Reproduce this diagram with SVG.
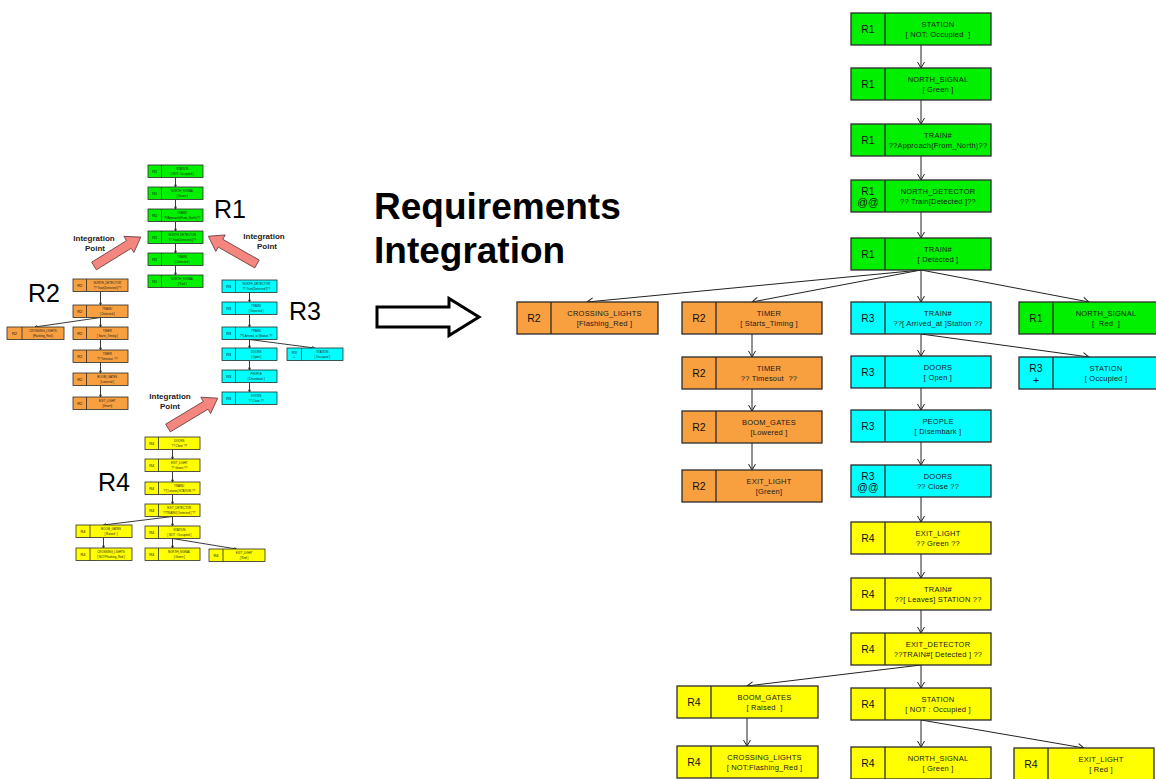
<svg xmlns="http://www.w3.org/2000/svg" width="1156" height="779" viewBox="0 0 1156 779">
  <style>
    .box{stroke:#2b2b2b;stroke-width:1.3}
    .mbox{stroke:#2b2b2b;stroke-width:0.8}
    .g{fill:#00F000}
    .o{fill:#F8A040}
    .c{fill:#00FFFF}
    .y{fill:#FFFF00}
    .dv{stroke:#2b2b2b;stroke-width:1.3}
    .mdv{stroke:#2b2b2b;stroke-width:0.8}
    .lb{font-family:"Liberation Sans",Arial,sans-serif;font-size:10.5px;text-anchor:middle;fill:#111}
    .tx{font-family:"Liberation Sans",Arial,sans-serif;font-size:7.5px;text-anchor:middle;fill:#1a1a1a;letter-spacing:0.2px;white-space:pre}
    .mlb{font-family:"Liberation Sans",Arial,sans-serif;font-size:4px;text-anchor:middle;fill:#111}
    .mtx{font-family:"Liberation Sans",Arial,sans-serif;font-size:2.9px;text-anchor:middle;fill:#1a1a1a;white-space:pre}
    .ln{stroke:#222;stroke-width:1;fill:none;marker-end:url(#ah)}
    .mln{stroke:#222;stroke-width:0.9;fill:none;marker-end:url(#mah)}
    .big{font-family:"Liberation Sans",Arial,sans-serif;font-size:25px;fill:#000}
    .ip{font-family:"Liberation Sans",Arial,sans-serif;font-size:8px;font-weight:bold;text-anchor:middle;fill:#222}
    .title{font-family:"Liberation Sans",Arial,sans-serif;font-size:37px;font-weight:bold;fill:#000}
    .pink{fill:#F4857F;stroke:#6a4040;stroke-width:0.8}
  </style>
  <defs>
    <marker id="ah" viewBox="0 0 7 8" refX="6.5" refY="4" markerWidth="7" markerHeight="8" markerUnits="userSpaceOnUse" orient="auto">
      <path d="M0.5,0.5 L6.5,4 L0.5,7.5" fill="none" stroke="#222" stroke-width="1"/>
    </marker>
    <marker id="mah" viewBox="0 0 7 8" refX="6.5" refY="4" markerWidth="3" markerHeight="3.4" markerUnits="userSpaceOnUse" orient="auto">
      <path d="M0.5,0.5 L6.5,4 L0.5,7.5" fill="none" stroke="#222" stroke-width="1.6"/>
    </marker>
  </defs>
  <rect width="1156" height="779" fill="#fff"/>

  <!-- ===== small requirement trees ===== -->
  <g id="mini-connectors">
    <path class="mln" d="M175.5,177.5 V187"/>
    <path class="mln" d="M175.5,199.5 V209"/>
    <path class="mln" d="M175.5,221.5 V231"/>
    <path class="mln" d="M175.5,243.5 V253"/>
    <path class="mln" d="M175.5,265.5 V275"/>

    <path class="mln" d="M100.5,291.5 V305"/>
    <path class="mln" d="M100.5,317.5 V327"/>
    <path class="mln" d="M100.5,317.5 L35,327"/>
    <path class="mln" d="M100.5,339.5 V350"/>
    <path class="mln" d="M100.5,362.5 V373"/>
    <path class="mln" d="M100.5,385.5 V397"/>

    <path class="mln" d="M249.5,292.5 V302"/>
    <path class="mln" d="M249.5,314.5 V327"/>
    <path class="mln" d="M249.5,339.5 V348"/>
    <path class="mln" d="M249.5,339.5 L314.5,348"/>
    <path class="mln" d="M249.5,360.5 V370"/>
    <path class="mln" d="M249.5,382.5 V392"/>

    <path class="mln" d="M172.5,449.5 V459"/>
    <path class="mln" d="M172.5,471.5 V482"/>
    <path class="mln" d="M172.5,494.5 V504"/>
    <path class="mln" d="M172.5,516.5 V526"/>
    <path class="mln" d="M172.5,516.5 L103.5,525"/>
    <path class="mln" d="M103.5,537.5 V548"/>
    <path class="mln" d="M172.5,538.5 V548"/>
    <path class="mln" d="M172.5,538.5 L236.5,549"/>
  </g>

  <!-- R1 tree -->
  <g id="m1-station" transform="translate(148,165)"><rect class="mbox g" width="55" height="12.5"/><line class="mdv" x1="13.5" y1="0" x2="13.5" y2="12.5"/><text class="mlb" x="6.75" y="7.8">R1</text><text class="mtx" x="34.25" y="5.3">STATION</text><text class="mtx" x="34.25" y="9.6">[ NOT: Occupied ]</text></g>
  <g id="m1-nsignal" transform="translate(148,187)"><rect class="mbox g" width="55" height="12.5"/><line class="mdv" x1="13.5" y1="0" x2="13.5" y2="12.5"/><text class="mlb" x="6.75" y="7.8">R1</text><text class="mtx" x="34.25" y="5.3">NORTH_SIGNAL</text><text class="mtx" x="34.25" y="9.6">[ Green ]</text></g>
  <g id="m1-train" transform="translate(148,209)"><rect class="mbox g" width="55" height="12.5"/><line class="mdv" x1="13.5" y1="0" x2="13.5" y2="12.5"/><text class="mlb" x="6.75" y="7.8">R1</text><text class="mtx" x="34.25" y="5.3">TRAIN#</text><text class="mtx" x="34.25" y="9.6">??Approach(From_North)??</text></g>
  <g id="m1-ndetector" transform="translate(148,231)"><rect class="mbox g" width="55" height="12.5"/><line class="mdv" x1="13.5" y1="0" x2="13.5" y2="12.5"/><text class="mlb" x="6.75" y="7.8">R1</text><text class="mtx" x="34.25" y="5.3">NORTH_DETECTOR</text><text class="mtx" x="34.25" y="9.6">?? Train[Detected ]??</text></g>
  <g id="m1-detected" transform="translate(148,253)"><rect class="mbox g" width="55" height="12.5"/><line class="mdv" x1="13.5" y1="0" x2="13.5" y2="12.5"/><text class="mlb" x="6.75" y="7.8">R1</text><text class="mtx" x="34.25" y="5.3">TRAIN#</text><text class="mtx" x="34.25" y="9.6">[ Detected ]</text></g>
  <g id="m1-nsignal-red" transform="translate(148,275)"><rect class="mbox g" width="55" height="12.5"/><line class="mdv" x1="13.5" y1="0" x2="13.5" y2="12.5"/><text class="mlb" x="6.75" y="7.8">R1</text><text class="mtx" x="34.25" y="5.3">NORTH_SIGNAL</text><text class="mtx" x="34.25" y="9.6">[ Red ]</text></g>

  <!-- R2 tree -->
  <g id="m2-ndetector" transform="translate(73,279)"><rect class="mbox o" width="55" height="12.5"/><line class="mdv" x1="13.5" y1="0" x2="13.5" y2="12.5"/><text class="mlb" x="6.75" y="7.8">R2</text><text class="mtx" x="34.25" y="5.3">NORTH_DETECTOR</text><text class="mtx" x="34.25" y="9.6">?? Train[Detected ]??</text></g>
  <g id="m2-detected" transform="translate(73,305)"><rect class="mbox o" width="55" height="12.5"/><line class="mdv" x1="13.5" y1="0" x2="13.5" y2="12.5"/><text class="mlb" x="6.75" y="7.8">R2</text><text class="mtx" x="34.25" y="5.3">TRAIN#</text><text class="mtx" x="34.25" y="9.6">[ Detected ]</text></g>
  <g id="m2-crossing" transform="translate(7,327)"><rect class="mbox o" width="57" height="12.5"/><line class="mdv" x1="15" y1="0" x2="15" y2="12.5"/><text class="mlb" x="7.5" y="7.8">R2</text><text class="mtx" x="36" y="5.3">CROSSING_LIGHTS</text><text class="mtx" x="36" y="9.6">[Flashing_Red ]</text></g>
  <g id="m2-timer" transform="translate(73,327)"><rect class="mbox o" width="55" height="12.5"/><line class="mdv" x1="13.5" y1="0" x2="13.5" y2="12.5"/><text class="mlb" x="6.75" y="7.8">R2</text><text class="mtx" x="34.25" y="5.3">TIMER</text><text class="mtx" x="34.25" y="9.6">[ Starts_Timing ]</text></g>
  <g id="m2-timeout" transform="translate(73,350)"><rect class="mbox o" width="55" height="12.5"/><line class="mdv" x1="13.5" y1="0" x2="13.5" y2="12.5"/><text class="mlb" x="6.75" y="7.8">R2</text><text class="mtx" x="34.25" y="5.3">TIMER</text><text class="mtx" x="34.25" y="9.6">?? Timesout  ??</text></g>
  <g id="m2-boom" transform="translate(73,373)"><rect class="mbox o" width="55" height="12.5"/><line class="mdv" x1="13.5" y1="0" x2="13.5" y2="12.5"/><text class="mlb" x="6.75" y="7.8">R2</text><text class="mtx" x="34.25" y="5.3">BOOM_GATES</text><text class="mtx" x="34.25" y="9.6">[Lowered ]</text></g>
  <g id="m2-exit" transform="translate(73,397)"><rect class="mbox o" width="55" height="12.5"/><line class="mdv" x1="13.5" y1="0" x2="13.5" y2="12.5"/><text class="mlb" x="6.75" y="7.8">R2</text><text class="mtx" x="34.25" y="5.3">EXIT_LIGHT</text><text class="mtx" x="34.25" y="9.6">[Green]</text></g>

  <!-- R3 tree -->
  <g id="m3-ndetector" transform="translate(222,280)"><rect class="mbox c" width="55" height="12.5"/><line class="mdv" x1="13.5" y1="0" x2="13.5" y2="12.5"/><text class="mlb" x="6.75" y="7.8">R3</text><text class="mtx" x="34.25" y="5.3">NORTH_DETECTOR</text><text class="mtx" x="34.25" y="9.6">?? Train[Detected ]??</text></g>
  <g id="m3-detected" transform="translate(222,302)"><rect class="mbox c" width="55" height="12.5"/><line class="mdv" x1="13.5" y1="0" x2="13.5" y2="12.5"/><text class="mlb" x="6.75" y="7.8">R3</text><text class="mtx" x="34.25" y="5.3">TRAIN#</text><text class="mtx" x="34.25" y="9.6">[ Detected ]</text></g>
  <g id="m3-arrived" transform="translate(222,327)"><rect class="mbox c" width="55" height="12.5"/><line class="mdv" x1="13.5" y1="0" x2="13.5" y2="12.5"/><text class="mlb" x="6.75" y="7.8">R3</text><text class="mtx" x="34.25" y="5.3">TRAIN#</text><text class="mtx" x="34.25" y="9.6">??[ Arrived_at ]Station ??</text></g>
  <g id="m3-open" transform="translate(222,348)"><rect class="mbox c" width="55" height="12.5"/><line class="mdv" x1="13.5" y1="0" x2="13.5" y2="12.5"/><text class="mlb" x="6.75" y="7.8">R3</text><text class="mtx" x="34.25" y="5.3">DOORS</text><text class="mtx" x="34.25" y="9.6">[ Open ]</text></g>
  <g id="m3-station" transform="translate(287,348)"><rect class="mbox c" width="56" height="12.5"/><line class="mdv" x1="14.5" y1="0" x2="14.5" y2="12.5"/><text class="mlb" x="7.25" y="5.5">R3</text><text class="mlb" x="7.25" y="10.3">+</text><text class="mtx" x="35.25" y="5.3">STATION</text><text class="mtx" x="35.25" y="9.6">[ Occupied ]</text></g>
  <g id="m3-people" transform="translate(222,370)"><rect class="mbox c" width="55" height="12.5"/><line class="mdv" x1="13.5" y1="0" x2="13.5" y2="12.5"/><text class="mlb" x="6.75" y="7.8">R3</text><text class="mtx" x="34.25" y="5.3">PEOPLE</text><text class="mtx" x="34.25" y="9.6">[ Disembark ]</text></g>
  <g id="m3-close" transform="translate(222,392)"><rect class="mbox c" width="55" height="12.5"/><line class="mdv" x1="13.5" y1="0" x2="13.5" y2="12.5"/><text class="mlb" x="6.75" y="7.8">R3</text><text class="mtx" x="34.25" y="5.3">DOORS</text><text class="mtx" x="34.25" y="9.6">?? Close ??</text></g>

  <!-- R4 tree -->
  <g id="m4-close" transform="translate(145,437)"><rect class="mbox y" width="55" height="12.5"/><line class="mdv" x1="13.5" y1="0" x2="13.5" y2="12.5"/><text class="mlb" x="6.75" y="7.8">R4</text><text class="mtx" x="34.25" y="5.3">DOORS</text><text class="mtx" x="34.25" y="9.6">?? Close ??</text></g>
  <g id="m4-exitgreen" transform="translate(145,459)"><rect class="mbox y" width="55" height="12.5"/><line class="mdv" x1="13.5" y1="0" x2="13.5" y2="12.5"/><text class="mlb" x="6.75" y="7.8">R4</text><text class="mtx" x="34.25" y="5.3">EXIT_LIGHT</text><text class="mtx" x="34.25" y="9.6">?? Green ??</text></g>
  <g id="m4-leaves" transform="translate(145,482)"><rect class="mbox y" width="55" height="12.5"/><line class="mdv" x1="13.5" y1="0" x2="13.5" y2="12.5"/><text class="mlb" x="6.75" y="7.8">R4</text><text class="mtx" x="34.25" y="5.3">TRAIN#</text><text class="mtx" x="34.25" y="9.6">??[ Leaves] STATION ??</text></g>
  <g id="m4-edetector" transform="translate(145,504)"><rect class="mbox y" width="55" height="12.5"/><line class="mdv" x1="13.5" y1="0" x2="13.5" y2="12.5"/><text class="mlb" x="6.75" y="7.8">R4</text><text class="mtx" x="34.25" y="5.3">EXIT_DETECTOR</text><text class="mtx" x="34.25" y="9.6">??TRAIN#[ Detected ] ??</text></g>
  <g id="m4-raised" transform="translate(76,525)"><rect class="mbox y" width="56" height="12.5"/><line class="mdv" x1="14" y1="0" x2="14" y2="12.5"/><text class="mlb" x="7" y="7.8">R4</text><text class="mtx" x="35" y="5.3">BOOM_GATES</text><text class="mtx" x="35" y="9.6">[ Raised  ]</text></g>
  <g id="m4-station" transform="translate(145,526)"><rect class="mbox y" width="55" height="12.5"/><line class="mdv" x1="13.5" y1="0" x2="13.5" y2="12.5"/><text class="mlb" x="6.75" y="7.8">R4</text><text class="mtx" x="34.25" y="5.3">STATION</text><text class="mtx" x="34.25" y="9.6">[ NOT : Occupied ]</text></g>
  <g id="m4-crossing" transform="translate(76,548)"><rect class="mbox y" width="56" height="12.5"/><line class="mdv" x1="14" y1="0" x2="14" y2="12.5"/><text class="mlb" x="7" y="7.8">R4</text><text class="mtx" x="35" y="5.3">CROSSING_LIGHTS</text><text class="mtx" x="35" y="9.6">[ NOT:Flashing_Red ]</text></g>
  <g id="m4-nsignal" transform="translate(145,548)"><rect class="mbox y" width="55" height="12.5"/><line class="mdv" x1="13.5" y1="0" x2="13.5" y2="12.5"/><text class="mlb" x="6.75" y="7.8">R4</text><text class="mtx" x="34.25" y="5.3">NORTH_SIGNAL</text><text class="mtx" x="34.25" y="9.6">[ Green ]</text></g>
  <g id="m4-exitred" transform="translate(209,549)"><rect class="mbox y" width="56" height="12.5"/><line class="mdv" x1="14" y1="0" x2="14" y2="12.5"/><text class="mlb" x="7" y="7.8">R4</text><text class="mtx" x="35" y="5.3">EXIT_LIGHT</text><text class="mtx" x="35" y="9.6">[ Red ]</text></g>

  <!-- tree captions -->
  <text class="big" x="214" y="218">R1</text>
  <text class="big" x="28" y="302">R2</text>
  <text class="big" x="289" y="320">R3</text>
  <text class="big" x="98" y="491">R4</text>

  <!-- integration point arrows -->
  <g id="ip-left">
    <polygon class="pink" transform="translate(94,266) rotate(-31.7)" points="0,-4.5 41,-4.5 41,-9.5 55,0 41,9.5 41,4.5 0,4.5"/>
    <text class="ip" x="94" y="241">Integration</text>
    <text class="ip" x="95" y="251">Point</text>
  </g>
  <g id="ip-right">
    <polygon class="pink" transform="translate(257,264) rotate(-150.3)" points="0,-4.5 42,-4.5 42,-9.5 56,0 42,9.5 42,4.5 0,4.5"/>
    <text class="ip" x="264" y="239">Integration</text>
    <text class="ip" x="267" y="249">Point</text>
  </g>
  <g id="ip-bottom">
    <polygon class="pink" transform="translate(168,428) rotate(-31)" points="0,-4.5 44,-4.5 44,-9.5 58,0 44,9.5 44,4.5 0,4.5"/>
    <text class="ip" x="170" y="399">Integration</text>
    <text class="ip" x="170" y="409">Point</text>
  </g>

  <!-- heading and hollow arrow -->
  <text class="title" x="374" y="219">Requirements</text>
  <text class="title" x="374" y="263">Integration</text>
  <polygon points="377,307 449,307 449,298.5 479,317 449,335.5 449,327 377,327" fill="#fff" stroke="#000" stroke-width="3"/>

  <!-- ===== integrated tree ===== -->
  <g id="connectors">
    <path class="ln" d="M921,45 V68"/>
    <path class="ln" d="M921,100 V124"/>
    <path class="ln" d="M921,156 V180"/>
    <path class="ln" d="M921,212 V238"/>
    <path class="ln" d="M921,270 L587,302"/>
    <path class="ln" d="M921,270 L752,302"/>
    <path class="ln" d="M921,270 V302"/>
    <path class="ln" d="M921,270 L1089,302"/>
    <path class="ln" d="M752,334 V357"/>
    <path class="ln" d="M752,389 V411"/>
    <path class="ln" d="M752,443 V470"/>
    <path class="ln" d="M921,334 V356"/>
    <path class="ln" d="M921,334 L1089,357"/>
    <path class="ln" d="M921,388 V410"/>
    <path class="ln" d="M921,442 V465"/>
    <path class="ln" d="M921,497 V522"/>
    <path class="ln" d="M921,554 V578"/>
    <path class="ln" d="M921,610 V633"/>
    <path class="ln" d="M921,665 L747,686"/>
    <path class="ln" d="M921,665 V688"/>
    <path class="ln" d="M747,718 V746"/>
    <path class="ln" d="M921,720 V747"/>
    <path class="ln" d="M921,720 L1084,748"/>
  </g>

  <g id="g1-station" transform="translate(851,13)"><rect class="box g" width="140" height="32"/><line class="dv" x1="34" y1="0" x2="34" y2="32"/><text class="lb" x="17" y="19.5">R1</text><text class="tx" x="87" y="13.5">STATION</text><text class="tx" x="87" y="23.5">[ NOT: Occupied  ]</text></g>
  <g id="g2-nsignal" transform="translate(851,68)"><rect class="box g" width="140" height="32"/><line class="dv" x1="34" y1="0" x2="34" y2="32"/><text class="lb" x="17" y="19.5">R1</text><text class="tx" x="87" y="13.5">NORTH_SIGNAL</text><text class="tx" x="87" y="23.5">[ Green ]</text></g>
  <g id="g3-train" transform="translate(851,124)"><rect class="box g" width="140" height="32"/><line class="dv" x1="34" y1="0" x2="34" y2="32"/><text class="lb" x="17" y="19.5">R1</text><text class="tx" x="87" y="13.5">TRAIN#</text><text class="tx" x="87" y="23.5">??Approach(From_North)??</text></g>
  <g id="g4-ndetector" transform="translate(851,180)"><rect class="box g" width="140" height="32"/><line class="dv" x1="34" y1="0" x2="34" y2="32"/><text class="lb" x="17" y="14.5">R1</text><text class="lb" x="17" y="25.5">@@</text><text class="tx" x="87" y="13.5">NORTH_DETECTOR</text><text class="tx" x="87" y="23.5">?? Train[Detected ]??</text></g>
  <g id="g5-detected" transform="translate(851,238)"><rect class="box g" width="140" height="32"/><line class="dv" x1="34" y1="0" x2="34" y2="32"/><text class="lb" x="17" y="19.5">R1</text><text class="tx" x="87" y="13.5">TRAIN#</text><text class="tx" x="87" y="23.5">[ Detected ]</text></g>

  <g id="o1-crossing" transform="translate(517,302)"><rect class="box o" width="141" height="32"/><line class="dv" x1="34" y1="0" x2="34" y2="32"/><text class="lb" x="17" y="19.5">R2</text><text class="tx" x="87.5" y="13.5">CROSSING_LIGHTS</text><text class="tx" x="87.5" y="23.5">[Flashing_Red ]</text></g>
  <g id="o2-timer" transform="translate(682,302)"><rect class="box o" width="140" height="32"/><line class="dv" x1="34" y1="0" x2="34" y2="32"/><text class="lb" x="17" y="19.5">R2</text><text class="tx" x="87" y="13.5">TIMER</text><text class="tx" x="87" y="23.5">[ Starts_Timing ]</text></g>
  <g id="o3-timeout" transform="translate(682,357)"><rect class="box o" width="140" height="32"/><line class="dv" x1="34" y1="0" x2="34" y2="32"/><text class="lb" x="17" y="19.5">R2</text><text class="tx" x="87" y="13.5">TIMER</text><text class="tx" x="87" y="23.5">?? Timesout  ??</text></g>
  <g id="o4-boom" transform="translate(682,411)"><rect class="box o" width="140" height="32"/><line class="dv" x1="34" y1="0" x2="34" y2="32"/><text class="lb" x="17" y="19.5">R2</text><text class="tx" x="87" y="13.5">BOOM_GATES</text><text class="tx" x="87" y="23.5">[Lowered ]</text></g>
  <g id="o5-exit" transform="translate(682,470)"><rect class="box o" width="140" height="32"/><line class="dv" x1="34" y1="0" x2="34" y2="32"/><text class="lb" x="17" y="19.5">R2</text><text class="tx" x="87" y="13.5">EXIT_LIGHT</text><text class="tx" x="87" y="23.5">[Green]</text></g>

  <g id="c1-arrived" transform="translate(851,302)"><rect class="box c" width="140" height="32"/><line class="dv" x1="34" y1="0" x2="34" y2="32"/><text class="lb" x="17" y="19.5">R3</text><text class="tx" x="87" y="13.5">TRAIN#</text><text class="tx" x="87" y="23.5">??[ Arrived_at ]Station ??</text></g>
  <g id="g6-nsignal-red" transform="translate(1019,302)"><rect class="box g" width="140" height="32"/><line class="dv" x1="34" y1="0" x2="34" y2="32"/><text class="lb" x="17" y="19.5">R1</text><text class="tx" x="87" y="13.5">NORTH_SIGNAL</text><text class="tx" x="87" y="23.5">[  Red  ]</text></g>
  <g id="c2-open" transform="translate(851,356)"><rect class="box c" width="140" height="32"/><line class="dv" x1="34" y1="0" x2="34" y2="32"/><text class="lb" x="17" y="19.5">R3</text><text class="tx" x="87" y="13.5">DOORS</text><text class="tx" x="87" y="23.5">[ Open ]</text></g>
  <g id="c3-station" transform="translate(1019,357)"><rect class="box c" width="140" height="32"/><line class="dv" x1="34" y1="0" x2="34" y2="32"/><text class="lb" x="17" y="14.5">R3</text><text class="lb" x="17" y="26.5">+</text><text class="tx" x="87" y="13.5">STATION</text><text class="tx" x="87" y="23.5">[ Occupied ]</text></g>
  <g id="c4-people" transform="translate(851,410)"><rect class="box c" width="140" height="32"/><line class="dv" x1="34" y1="0" x2="34" y2="32"/><text class="lb" x="17" y="19.5">R3</text><text class="tx" x="87" y="13.5">PEOPLE</text><text class="tx" x="87" y="23.5">[ Disembark ]</text></g>
  <g id="c5-close" transform="translate(851,465)"><rect class="box c" width="140" height="32"/><line class="dv" x1="34" y1="0" x2="34" y2="32"/><text class="lb" x="17" y="14.5">R3</text><text class="lb" x="17" y="25.5">@@</text><text class="tx" x="87" y="13.5">DOORS</text><text class="tx" x="87" y="23.5">?? Close ??</text></g>

  <g id="y1-exitgreen" transform="translate(851,522)"><rect class="box y" width="140" height="32"/><line class="dv" x1="34" y1="0" x2="34" y2="32"/><text class="lb" x="17" y="19.5">R4</text><text class="tx" x="87" y="13.5">EXIT_LIGHT</text><text class="tx" x="87" y="23.5">?? Green ??</text></g>
  <g id="y2-leaves" transform="translate(851,578)"><rect class="box y" width="140" height="32"/><line class="dv" x1="34" y1="0" x2="34" y2="32"/><text class="lb" x="17" y="19.5">R4</text><text class="tx" x="87" y="13.5">TRAIN#</text><text class="tx" x="87" y="23.5">??[ Leaves] STATION ??</text></g>
  <g id="y3-edetector" transform="translate(851,633)"><rect class="box y" width="140" height="32"/><line class="dv" x1="34" y1="0" x2="34" y2="32"/><text class="lb" x="17" y="19.5">R4</text><text class="tx" x="87" y="13.5">EXIT_DETECTOR</text><text class="tx" x="87" y="23.5">??TRAIN#[ Detected ] ??</text></g>
  <g id="y4-raised" transform="translate(677,686)"><rect class="box y" width="141" height="32"/><line class="dv" x1="34" y1="0" x2="34" y2="32"/><text class="lb" x="17" y="19.5">R4</text><text class="tx" x="87.5" y="13.5">BOOM_GATES</text><text class="tx" x="87.5" y="23.5">[ Raised  ]</text></g>
  <g id="y5-station" transform="translate(851,688)"><rect class="box y" width="140" height="32"/><line class="dv" x1="34" y1="0" x2="34" y2="32"/><text class="lb" x="17" y="19.5">R4</text><text class="tx" x="87" y="13.5">STATION</text><text class="tx" x="87" y="23.5">[ NOT : Occupied ]</text></g>
  <g id="y6-crossing" transform="translate(677,746)"><rect class="box y" width="141" height="32"/><line class="dv" x1="34" y1="0" x2="34" y2="32"/><text class="lb" x="17" y="19.5">R4</text><text class="tx" x="87.5" y="13.5">CROSSING_LIGHTS</text><text class="tx" x="87.5" y="23.5">[ NOT:Flashing_Red ]</text></g>
  <g id="y7-nsignal" transform="translate(851,747)"><rect class="box y" width="140" height="32"/><line class="dv" x1="34" y1="0" x2="34" y2="32"/><text class="lb" x="17" y="19.5">R4</text><text class="tx" x="87" y="13.5">NORTH_SIGNAL</text><text class="tx" x="87" y="23.5">[ Green ]</text></g>
  <g id="y8-exitred" transform="translate(1014,748)"><rect class="box y" width="140" height="32"/><line class="dv" x1="34" y1="0" x2="34" y2="32"/><text class="lb" x="17" y="19.5">R4</text><text class="tx" x="87" y="13.5">EXIT_LIGHT</text><text class="tx" x="87" y="23.5">[ Red ]</text></g>
</svg>
